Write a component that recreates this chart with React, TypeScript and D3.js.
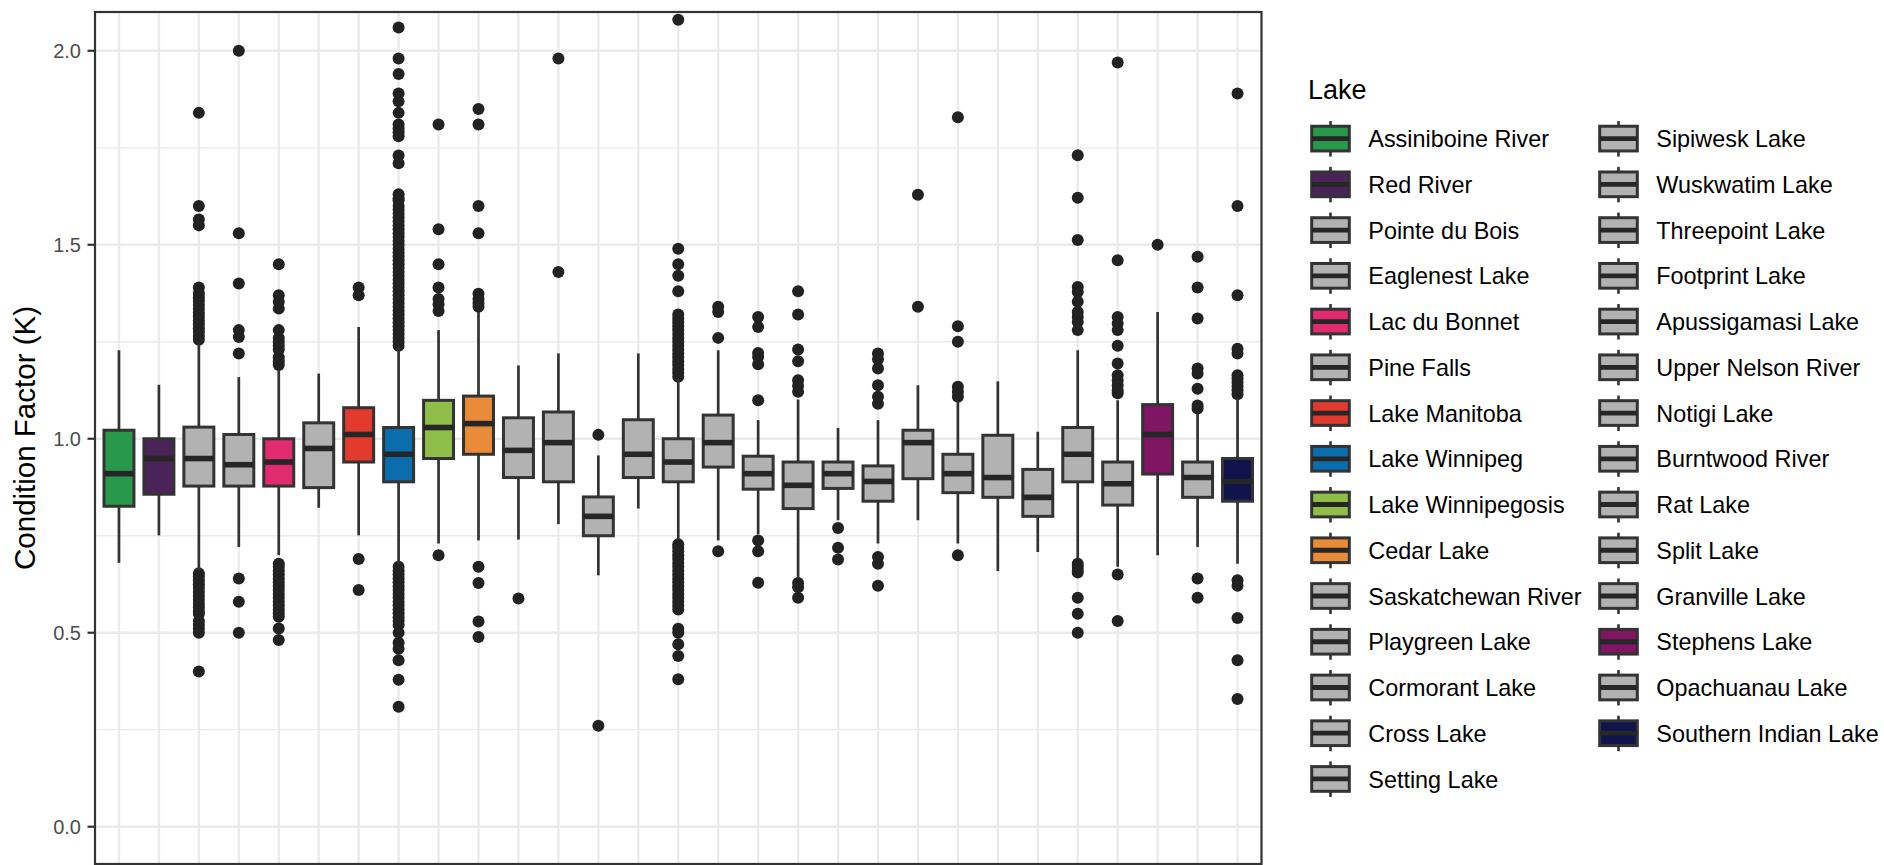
import React from "react";
import * as d3 from "d3";

const lakes = [
  "Assiniboine River", "Red River", "Pointe du Bois", "Eaglenest Lake", "Lac du Bonnet",
  "Pine Falls", "Lake Manitoba", "Lake Winnipeg", "Lake Winnipegosis", "Cedar Lake",
  "Saskatchewan River", "Playgreen Lake", "Cormorant Lake", "Cross Lake", "Setting Lake",
  "Sipiwesk Lake", "Wuskwatim Lake", "Threepoint Lake", "Footprint Lake", "Apussigamasi Lake",
  "Upper Nelson River", "Notigi Lake", "Burntwood River", "Rat Lake", "Split Lake",
  "Granville Lake", "Stephens Lake", "Opachuanau Lake", "Southern Indian Lake",
];

const fills = [
  "#28984A", "#4A2458", "#B2B2B2", "#B2B2B2", "#E12A6F",
  "#B2B2B2", "#E23B2E", "#0A6DAE", "#8FBF48", "#E98B37",
  "#B2B2B2", "#B2B2B2", "#B2B2B2", "#B2B2B2", "#B2B2B2",
  "#B2B2B2", "#B2B2B2", "#B2B2B2", "#B2B2B2", "#B2B2B2",
  "#B2B2B2", "#B2B2B2", "#B2B2B2", "#B2B2B2", "#B2B2B2",
  "#B2B2B2", "#801563", "#B2B2B2", "#11134B",
];

const whiskerLow = [
  0.68, 0.751, 0.661, 0.721, 0.70, 0.822, 0.751, 0.679, 0.73, 0.738,
  0.74, 0.78, 0.648, 0.82, 0.74, 0.738, 0.754, 0.64, 0.79, 0.73,
  0.79, 0.73, 0.659, 0.708, 0.689, 0.67, 0.70, 0.721, 0.678,
];
const q1 = [
  0.826, 0.857, 0.878, 0.878, 0.878, 0.874, 0.94, 0.889, 0.949, 0.96,
  0.90, 0.889, 0.75, 0.90, 0.889, 0.927, 0.87, 0.82, 0.872, 0.839,
  0.897, 0.861, 0.849, 0.80, 0.889, 0.829, 0.909, 0.849, 0.839,
];
const medians = [
  0.91, 0.949, 0.949, 0.933, 0.94, 0.975, 1.011, 0.96, 1.029, 1.039,
  0.97, 0.99, 0.80, 0.96, 0.94, 0.99, 0.91, 0.88, 0.91, 0.89,
  0.99, 0.91, 0.90, 0.849, 0.96, 0.884, 1.011, 0.90, 0.89,
];
const q3 = [
  1.022, 1.0, 1.03, 1.011, 1.0, 1.041, 1.08, 1.029, 1.099, 1.11,
  1.054, 1.069, 0.85, 1.049, 1.0, 1.061, 0.955, 0.94, 0.94, 0.93,
  1.022, 0.96, 1.009, 0.921, 1.029, 0.94, 1.088, 0.94, 0.949,
];
const whiskerHigh = [
  1.228, 1.139, 1.246, 1.159, 1.177, 1.168, 1.288, 1.237, 1.28, 1.327,
  1.189, 1.22, 0.957, 1.22, 1.155, 1.228, 1.048, 1.101, 1.028, 1.048,
  1.138, 1.095, 1.148, 1.018, 1.228, 1.099, 1.327, 1.065, 1.104,
];

const outliers: number[][] = [
  [],
  [],
  [1.84, 1.60, 1.565, 1.55, 1.39, 1.375, 1.365, 1.355, 1.345, 1.335, 1.325, 1.315, 1.305, 1.295, 1.285, 1.275, 1.265, 1.255,
    0.653, 0.645, 0.635, 0.625, 0.615, 0.605, 0.595, 0.585, 0.575, 0.565, 0.555, 0.548, 0.53, 0.52, 0.51, 0.50, 0.40],
  [2.00, 1.53, 1.40, 1.28, 1.262, 1.22, 0.64, 0.58, 0.50],
  [1.45, 1.37, 1.353, 1.336, 1.28, 1.26, 1.25, 1.24, 1.23, 1.21, 1.20, 1.19,
    0.678, 0.67, 0.66, 0.65, 0.64, 0.63, 0.62, 0.61, 0.60, 0.59, 0.58, 0.57, 0.56, 0.55, 0.541, 0.511, 0.481],
  [],
  [1.39, 1.37, 0.69, 0.61],
  [2.06, 1.98, 1.94, 1.89, 1.87, 1.84, 1.81, 1.80, 1.79, 1.78, 1.73, 1.71, 1.63, 1.62, 1.615,
    1.60, 1.59, 1.58, 1.57, 1.56, 1.55, 1.54, 1.53, 1.52, 1.51, 1.50, 1.49, 1.48, 1.47, 1.46, 1.45, 1.44, 1.43,
    1.42, 1.41, 1.40, 1.39, 1.38, 1.37, 1.36, 1.35, 1.34, 1.33, 1.32, 1.31, 1.30, 1.29, 1.28, 1.27, 1.26, 1.25, 1.24,
    0.67, 0.66, 0.65, 0.64, 0.63, 0.62, 0.61, 0.60, 0.59, 0.58, 0.57, 0.56, 0.55, 0.54, 0.53, 0.52, 0.50,
    0.474, 0.459, 0.429, 0.379, 0.309],
  [1.81, 1.54, 1.45, 1.39, 1.36, 1.347, 1.329, 0.70],
  [1.85, 1.81, 1.60, 1.53, 1.374, 1.36, 1.35, 1.34, 0.67, 0.628, 0.529, 0.489],
  [0.588],
  [1.98, 1.43],
  [1.01, 0.26],
  [],
  [2.08, 1.49, 1.45, 1.42, 1.38, 1.32, 1.31, 1.30, 1.29, 1.28, 1.27, 1.26, 1.25, 1.24, 1.23, 1.22, 1.21, 1.20, 1.19, 1.18, 1.17, 1.16,
    0.728, 0.72, 0.71, 0.70, 0.69, 0.68, 0.67, 0.66, 0.65, 0.64, 0.63, 0.62, 0.61, 0.60, 0.59, 0.58, 0.57, 0.56,
    0.51, 0.50, 0.47, 0.44, 0.38],
  [1.34, 1.327, 1.26, 0.71],
  [1.314, 1.288, 1.221, 1.211, 1.192, 1.099, 0.738, 0.71, 0.629],
  [1.38, 1.32, 1.23, 1.20, 1.151, 1.136, 1.121, 0.628, 0.617, 0.59],
  [0.77, 0.719, 0.689],
  [1.22, 1.205, 1.181, 1.138, 1.108, 1.09, 0.695, 0.678, 0.621],
  [1.629, 1.34],
  [1.829, 1.29, 1.25, 1.134, 1.121, 1.108, 0.70],
  [],
  [],
  [1.731, 1.621, 1.512, 1.391, 1.378, 1.353, 1.327, 1.314, 1.301, 1.28, 0.678, 0.67, 0.662, 0.655, 0.59, 0.549, 0.50],
  [1.97, 1.46, 1.314, 1.297, 1.28, 1.24, 1.194, 1.164, 1.15, 1.138, 1.125, 1.117, 0.65, 0.53],
  [1.50],
  [1.469, 1.39, 1.31, 1.181, 1.168, 1.129, 1.086, 1.078, 0.64, 0.59],
  [1.89, 1.60, 1.37, 1.232, 1.22, 1.164, 1.155, 1.145, 1.135, 1.125, 1.115, 0.635, 0.621, 0.538, 0.429, 0.329],
];

const majorTicks = [0, 0.5, 1.0, 1.5, 2.0];
const minorTicks = [0.25, 0.75, 1.25, 1.75];
const tickLabels = ["0.0", "0.5", "1.0", "1.5", "2.0"];

const yTitle = "Condition Factor (K)";
const legendTitle = "Lake";

const W = 1884;
const H = 865;
const FONT = "'Liberation Sans', Arial, Helvetica, sans-serif";
const LINE = "#333333";

export default function App() {
  const panel = { left: 95, right: 1261.5, top: 12, bottom: 864 };
  const y = d3.scaleLinear().domain([-0.1, 2.1]).range([865.5, 12]);
  const x = d3.scalePoint<string>().domain(lakes).range([panel.left, panel.right]).padding(0.6);
  const bw = x.step() * 0.75;

  const rows = Math.ceil(lakes.length / 2);
  const legX0 = 1311.7;
  const colGap = 288;
  const rowY0 = 138.6;
  const rowStep = 45.74;
  const keyW = 37.6;
  const keyH = 24.7;

  return (
    <svg width={W} height={H} style={{ position: "absolute", left: 0, top: 0, display: "block" }} fontFamily={FONT}>
      <rect x={0} y={0} width={W} height={H} fill="#ffffff" />
      <defs>
        <clipPath id="panelClip">
          <rect x={panel.left} y={panel.top} width={panel.right - panel.left} height={panel.bottom - panel.top} />
        </clipPath>
      </defs>
      <g clipPath="url(#panelClip)">
        {minorTicks.map((v) => (
          <line key={"mn" + v} x1={panel.left} x2={panel.right} y1={y(v)} y2={y(v)} stroke="#EBEBEB" strokeWidth={1.3} />
        ))}
        {majorTicks.map((v) => (
          <line key={"mj" + v} x1={panel.left} x2={panel.right} y1={y(v)} y2={y(v)} stroke="#EBEBEB" strokeWidth={2.4} />
        ))}
        {lakes.map((l) => (
          <line key={"vg" + l} x1={x(l)} x2={x(l)} y1={panel.top} y2={panel.bottom} stroke="#EBEBEB" strokeWidth={2.4} />
        ))}
        {lakes.map((l, i) => {
          const cx = x(l) as number;
          return (
            <g key={"box" + l}>
              {outliers[i].map((v, j) => (
                <circle key={j} cx={cx} cy={y(v)} r={6} fill="#222222" />
              ))}
              <line x1={cx} x2={cx} y1={y(whiskerHigh[i])} y2={y(q3[i])} stroke={LINE} strokeWidth={2.7} />
              <line x1={cx} x2={cx} y1={y(q1[i])} y2={y(whiskerLow[i])} stroke={LINE} strokeWidth={2.7} />
              <rect x={cx - bw / 2} y={y(q3[i])} width={bw} height={y(q1[i]) - y(q3[i])} fill={fills[i]} stroke={LINE} strokeWidth={3} />
              <line x1={cx - bw / 2} x2={cx + bw / 2} y1={y(medians[i])} y2={y(medians[i])} stroke="#262626" strokeWidth={5.6} />
            </g>
          );
        })}
      </g>
      <rect x={panel.left} y={panel.top} width={panel.right - panel.left} height={panel.bottom - panel.top} fill="none" stroke={LINE} strokeWidth={2.2} />
      {majorTicks.map((v, i) => (
        <g key={"yt" + v}>
          <line x1={panel.left - 7.5} x2={panel.left} y1={y(v)} y2={y(v)} stroke={LINE} strokeWidth={2.2} />
          <text x={panel.left - 14} y={y(v)} dy="0.36em" textAnchor="end" fontSize={20} fill="#4D4D4D">
            {tickLabels[i]}
          </text>
        </g>
      ))}
      <text transform={`translate(24,${(panel.top + panel.bottom) / 2}) rotate(-90)`} textAnchor="middle" dy="0.36em" fontSize={29.5} fill="#000">
        {yTitle}
      </text>
      <text x={1308} y={99.3} fontSize={27} fill="#000">{legendTitle}</text>
      {lakes.map((l, i) => {
        const col = Math.floor(i / rows);
        const row = i % rows;
        const kx = legX0 + col * colGap;
        const cy = rowY0 + row * rowStep;
        const kcx = kx + keyW / 2;
        return (
          <g key={"lg" + l}>
            <line x1={kcx} x2={kcx} y1={cy - 17.5} y2={cy + 18} stroke={LINE} strokeWidth={2.6} />
            <rect x={kx} y={cy - keyH / 2} width={keyW} height={keyH} fill={fills[i]} stroke={LINE} strokeWidth={3} />
            <line x1={kx} x2={kx + keyW} y1={cy} y2={cy} stroke="#262626" strokeWidth={4.8} />
            <text x={kx + 56.6} y={cy + 8.6} fontSize={23.4} fill="#000">{l}</text>
          </g>
        );
      })}
    </svg>
  );
}
